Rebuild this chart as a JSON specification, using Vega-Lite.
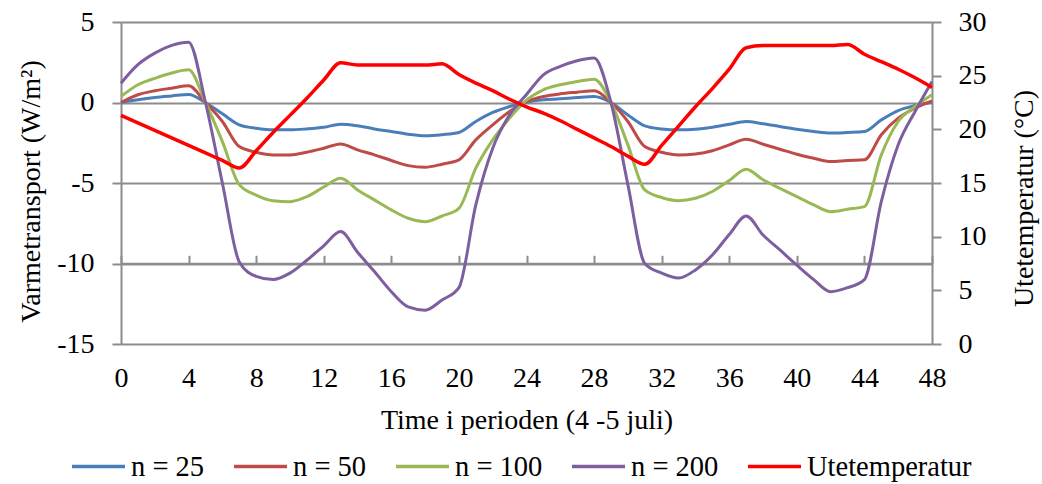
{
  "$schema": "https://vega.github.io/schema/vega-lite/v6.json",
  "width": 811,
  "height": 322,
  "autosize": {"type": "none"},
  "padding": {"left": 121, "top": 22, "right": 110, "bottom": 140},
  "background": "white",
  "config": {
    "font": "Liberation Serif",
    "view": {"stroke": null},
    "axis": {
      "labelFont": "Liberation Serif",
      "labelFontSize": 28,
      "labelColor": "#000000",
      "titleFont": "Liberation Serif",
      "titleFontSize": 28,
      "titleFontWeight": "normal",
      "titleColor": "#000000",
      "domainColor": "#8c8c8c",
      "domainWidth": 2,
      "tickColor": "#8c8c8c",
      "tickWidth": 2,
      "gridColor": "#8c8c8c",
      "gridWidth": 2,
      "gridOpacity": 1
    },
    "legend": {
      "labelFont": "Liberation Serif",
      "labelFontSize": 28.5,
      "labelColor": "#000000"
    }
  },
  "datasets": {
    "varme": [
      {"time": 0, "serie": "n = 25", "verdi": 0},
      {"time": 1, "serie": "n = 25", "verdi": 0.17},
      {"time": 2, "serie": "n = 25", "verdi": 0.31},
      {"time": 3, "serie": "n = 25", "verdi": 0.41},
      {"time": 4, "serie": "n = 25", "verdi": 0.5},
      {"time": 5, "serie": "n = 25", "verdi": 0},
      {"time": 6, "serie": "n = 25", "verdi": -0.7},
      {"time": 7, "serie": "n = 25", "verdi": -1.39},
      {"time": 8, "serie": "n = 25", "verdi": -1.6},
      {"time": 9, "serie": "n = 25", "verdi": -1.7},
      {"time": 10, "serie": "n = 25", "verdi": -1.7},
      {"time": 11, "serie": "n = 25", "verdi": -1.64},
      {"time": 12, "serie": "n = 25", "verdi": -1.54},
      {"time": 13, "serie": "n = 25", "verdi": -1.35},
      {"time": 14, "serie": "n = 25", "verdi": -1.45},
      {"time": 15, "serie": "n = 25", "verdi": -1.64},
      {"time": 16, "serie": "n = 25", "verdi": -1.8},
      {"time": 17, "serie": "n = 25", "verdi": -1.97},
      {"time": 18, "serie": "n = 25", "verdi": -2.07},
      {"time": 19, "serie": "n = 25", "verdi": -2.0},
      {"time": 20, "serie": "n = 25", "verdi": -1.86},
      {"time": 21, "serie": "n = 25", "verdi": -1.18},
      {"time": 22, "serie": "n = 25", "verdi": -0.62},
      {"time": 23, "serie": "n = 25", "verdi": -0.25},
      {"time": 24, "serie": "n = 25", "verdi": 0.03},
      {"time": 25, "serie": "n = 25", "verdi": 0.17},
      {"time": 26, "serie": "n = 25", "verdi": 0.23},
      {"time": 27, "serie": "n = 25", "verdi": 0.31},
      {"time": 28, "serie": "n = 25", "verdi": 0.37},
      {"time": 29, "serie": "n = 25", "verdi": 0},
      {"time": 30, "serie": "n = 25", "verdi": -0.77},
      {"time": 31, "serie": "n = 25", "verdi": -1.45},
      {"time": 32, "serie": "n = 25", "verdi": -1.64},
      {"time": 33, "serie": "n = 25", "verdi": -1.7},
      {"time": 34, "serie": "n = 25", "verdi": -1.66},
      {"time": 35, "serie": "n = 25", "verdi": -1.54},
      {"time": 36, "serie": "n = 25", "verdi": -1.35},
      {"time": 37, "serie": "n = 25", "verdi": -1.18},
      {"time": 38, "serie": "n = 25", "verdi": -1.32},
      {"time": 39, "serie": "n = 25", "verdi": -1.49},
      {"time": 40, "serie": "n = 25", "verdi": -1.66},
      {"time": 41, "serie": "n = 25", "verdi": -1.8},
      {"time": 42, "serie": "n = 25", "verdi": -1.9},
      {"time": 43, "serie": "n = 25", "verdi": -1.86},
      {"time": 44, "serie": "n = 25", "verdi": -1.8},
      {"time": 45, "serie": "n = 25", "verdi": -1.08},
      {"time": 46, "serie": "n = 25", "verdi": -0.5},
      {"time": 47, "serie": "n = 25", "verdi": -0.19},
      {"time": 48, "serie": "n = 25", "verdi": 0.02},

      {"time": 0, "serie": "n = 50", "verdi": 0},
      {"time": 1, "serie": "n = 50", "verdi": 0.48},
      {"time": 2, "serie": "n = 50", "verdi": 0.73},
      {"time": 3, "serie": "n = 50", "verdi": 0.89},
      {"time": 4, "serie": "n = 50", "verdi": 1.04},
      {"time": 5, "serie": "n = 50", "verdi": 0},
      {"time": 6, "serie": "n = 50", "verdi": -1.18},
      {"time": 7, "serie": "n = 50", "verdi": -2.74},
      {"time": 8, "serie": "n = 50", "verdi": -3.09},
      {"time": 9, "serie": "n = 50", "verdi": -3.26},
      {"time": 10, "serie": "n = 50", "verdi": -3.26},
      {"time": 11, "serie": "n = 50", "verdi": -3.09},
      {"time": 12, "serie": "n = 50", "verdi": -2.84},
      {"time": 13, "serie": "n = 50", "verdi": -2.57},
      {"time": 14, "serie": "n = 50", "verdi": -2.94},
      {"time": 15, "serie": "n = 50", "verdi": -3.25},
      {"time": 16, "serie": "n = 50", "verdi": -3.6},
      {"time": 17, "serie": "n = 50", "verdi": -3.92},
      {"time": 18, "serie": "n = 50", "verdi": -4.02},
      {"time": 19, "serie": "n = 50", "verdi": -3.83},
      {"time": 20, "serie": "n = 50", "verdi": -3.56},
      {"time": 21, "serie": "n = 50", "verdi": -2.32},
      {"time": 22, "serie": "n = 50", "verdi": -1.39},
      {"time": 23, "serie": "n = 50", "verdi": -0.56},
      {"time": 24, "serie": "n = 50", "verdi": 0.05},
      {"time": 25, "serie": "n = 50", "verdi": 0.37},
      {"time": 26, "serie": "n = 50", "verdi": 0.54},
      {"time": 27, "serie": "n = 50", "verdi": 0.64},
      {"time": 28, "serie": "n = 50", "verdi": 0.73},
      {"time": 29, "serie": "n = 50", "verdi": 0},
      {"time": 30, "serie": "n = 50", "verdi": -1.18},
      {"time": 31, "serie": "n = 50", "verdi": -2.74},
      {"time": 32, "serie": "n = 50", "verdi": -3.09},
      {"time": 33, "serie": "n = 50", "verdi": -3.26},
      {"time": 34, "serie": "n = 50", "verdi": -3.2},
      {"time": 35, "serie": "n = 50", "verdi": -3.0},
      {"time": 36, "serie": "n = 50", "verdi": -2.63},
      {"time": 37, "serie": "n = 50", "verdi": -2.28},
      {"time": 38, "serie": "n = 50", "verdi": -2.59},
      {"time": 39, "serie": "n = 50", "verdi": -2.9},
      {"time": 40, "serie": "n = 50", "verdi": -3.21},
      {"time": 41, "serie": "n = 50", "verdi": -3.46},
      {"time": 42, "serie": "n = 50", "verdi": -3.67},
      {"time": 43, "serie": "n = 50", "verdi": -3.6},
      {"time": 44, "serie": "n = 50", "verdi": -3.56},
      {"time": 45, "serie": "n = 50", "verdi": -2.0},
      {"time": 46, "serie": "n = 50", "verdi": -0.97},
      {"time": 47, "serie": "n = 50", "verdi": -0.35},
      {"time": 48, "serie": "n = 50", "verdi": 0.1},

      {"time": 0, "serie": "n = 100", "verdi": 0.37},
      {"time": 1, "serie": "n = 100", "verdi": 1.1},
      {"time": 2, "serie": "n = 100", "verdi": 1.5},
      {"time": 3, "serie": "n = 100", "verdi": 1.83},
      {"time": 4, "serie": "n = 100", "verdi": 2.03},
      {"time": 5, "serie": "n = 100", "verdi": 0},
      {"time": 6, "serie": "n = 100", "verdi": -2.43},
      {"time": 7, "serie": "n = 100", "verdi": -5.1},
      {"time": 8, "serie": "n = 100", "verdi": -5.75},
      {"time": 9, "serie": "n = 100", "verdi": -6.1},
      {"time": 10, "serie": "n = 100", "verdi": -6.16},
      {"time": 11, "serie": "n = 100", "verdi": -5.85},
      {"time": 12, "serie": "n = 100", "verdi": -5.25},
      {"time": 13, "serie": "n = 100", "verdi": -4.7},
      {"time": 14, "serie": "n = 100", "verdi": -5.43},
      {"time": 15, "serie": "n = 100", "verdi": -6.05},
      {"time": 16, "serie": "n = 100", "verdi": -6.67},
      {"time": 17, "serie": "n = 100", "verdi": -7.19},
      {"time": 18, "serie": "n = 100", "verdi": -7.4},
      {"time": 19, "serie": "n = 100", "verdi": -7.05},
      {"time": 20, "serie": "n = 100", "verdi": -6.57},
      {"time": 21, "serie": "n = 100", "verdi": -4.08},
      {"time": 22, "serie": "n = 100", "verdi": -2.32},
      {"time": 23, "serie": "n = 100", "verdi": -0.97},
      {"time": 24, "serie": "n = 100", "verdi": 0.15},
      {"time": 25, "serie": "n = 100", "verdi": 0.79},
      {"time": 26, "serie": "n = 100", "verdi": 1.1},
      {"time": 27, "serie": "n = 100", "verdi": 1.31},
      {"time": 28, "serie": "n = 100", "verdi": 1.45},
      {"time": 29, "serie": "n = 100", "verdi": 0},
      {"time": 30, "serie": "n = 100", "verdi": -2.63},
      {"time": 31, "serie": "n = 100", "verdi": -5.43},
      {"time": 32, "serie": "n = 100", "verdi": -5.9},
      {"time": 33, "serie": "n = 100", "verdi": -6.1},
      {"time": 34, "serie": "n = 100", "verdi": -5.95},
      {"time": 35, "serie": "n = 100", "verdi": -5.53},
      {"time": 36, "serie": "n = 100", "verdi": -4.85},
      {"time": 37, "serie": "n = 100", "verdi": -4.15},
      {"time": 38, "serie": "n = 100", "verdi": -4.8},
      {"time": 39, "serie": "n = 100", "verdi": -5.33},
      {"time": 40, "serie": "n = 100", "verdi": -5.85},
      {"time": 41, "serie": "n = 100", "verdi": -6.36},
      {"time": 42, "serie": "n = 100", "verdi": -6.78},
      {"time": 43, "serie": "n = 100", "verdi": -6.63},
      {"time": 44, "serie": "n = 100", "verdi": -6.47},
      {"time": 45, "serie": "n = 100", "verdi": -3.25},
      {"time": 46, "serie": "n = 100", "verdi": -1.18},
      {"time": 47, "serie": "n = 100", "verdi": -0.25},
      {"time": 48, "serie": "n = 100", "verdi": 0.48},

      {"time": 0, "serie": "n = 200", "verdi": 1.2},
      {"time": 1, "serie": "n = 200", "verdi": 2.35},
      {"time": 2, "serie": "n = 200", "verdi": 3.07},
      {"time": 3, "serie": "n = 200", "verdi": 3.55},
      {"time": 4, "serie": "n = 200", "verdi": 3.75},
      {"time": 5, "serie": "n = 200", "verdi": 0},
      {"time": 6, "serie": "n = 200", "verdi": -5.0},
      {"time": 7, "serie": "n = 200", "verdi": -9.9},
      {"time": 8, "serie": "n = 200", "verdi": -10.8},
      {"time": 9, "serie": "n = 200", "verdi": -11.0},
      {"time": 10, "serie": "n = 200", "verdi": -10.6},
      {"time": 11, "serie": "n = 200", "verdi": -9.8},
      {"time": 12, "serie": "n = 200", "verdi": -8.9},
      {"time": 13, "serie": "n = 200", "verdi": -8.02},
      {"time": 14, "serie": "n = 200", "verdi": -9.3},
      {"time": 15, "serie": "n = 200", "verdi": -10.5},
      {"time": 16, "serie": "n = 200", "verdi": -11.75},
      {"time": 17, "serie": "n = 200", "verdi": -12.7},
      {"time": 18, "serie": "n = 200", "verdi": -12.9},
      {"time": 19, "serie": "n = 200", "verdi": -12.27},
      {"time": 20, "serie": "n = 200", "verdi": -11.5},
      {"time": 21, "serie": "n = 200", "verdi": -6.36},
      {"time": 22, "serie": "n = 200", "verdi": -2.84},
      {"time": 23, "serie": "n = 200", "verdi": -0.77},
      {"time": 24, "serie": "n = 200", "verdi": 0.5},
      {"time": 25, "serie": "n = 200", "verdi": 1.72},
      {"time": 26, "serie": "n = 200", "verdi": 2.24},
      {"time": 27, "serie": "n = 200", "verdi": 2.59},
      {"time": 28, "serie": "n = 200", "verdi": 2.76},
      {"time": 29, "serie": "n = 200", "verdi": 0},
      {"time": 30, "serie": "n = 200", "verdi": -5.1},
      {"time": 31, "serie": "n = 200", "verdi": -10.0},
      {"time": 32, "serie": "n = 200", "verdi": -10.6},
      {"time": 33, "serie": "n = 200", "verdi": -10.9},
      {"time": 34, "serie": "n = 200", "verdi": -10.4},
      {"time": 35, "serie": "n = 200", "verdi": -9.47},
      {"time": 36, "serie": "n = 200", "verdi": -8.2},
      {"time": 37, "serie": "n = 200", "verdi": -7.05},
      {"time": 38, "serie": "n = 200", "verdi": -8.23},
      {"time": 39, "serie": "n = 200", "verdi": -9.16},
      {"time": 40, "serie": "n = 200", "verdi": -10.1},
      {"time": 41, "serie": "n = 200", "verdi": -11.0},
      {"time": 42, "serie": "n = 200", "verdi": -11.75},
      {"time": 43, "serie": "n = 200", "verdi": -11.5},
      {"time": 44, "serie": "n = 200", "verdi": -11.0},
      {"time": 45, "serie": "n = 200", "verdi": -6.15},
      {"time": 46, "serie": "n = 200", "verdi": -2.63},
      {"time": 47, "serie": "n = 200", "verdi": -0.56},
      {"time": 48, "serie": "n = 200", "verdi": 1.3}
    ],
    "temp": [
      {"time": 0, "serie": "Utetemperatur", "grader": 21.3},
      {"time": 1, "serie": "Utetemperatur", "grader": 20.6},
      {"time": 2, "serie": "Utetemperatur", "grader": 19.9},
      {"time": 3, "serie": "Utetemperatur", "grader": 19.2},
      {"time": 4, "serie": "Utetemperatur", "grader": 18.5},
      {"time": 5, "serie": "Utetemperatur", "grader": 17.8},
      {"time": 6, "serie": "Utetemperatur", "grader": 17.1},
      {"time": 7, "serie": "Utetemperatur", "grader": 16.4},
      {"time": 8, "serie": "Utetemperatur", "grader": 18.0},
      {"time": 9, "serie": "Utetemperatur", "grader": 19.7},
      {"time": 10, "serie": "Utetemperatur", "grader": 21.3},
      {"time": 11, "serie": "Utetemperatur", "grader": 22.9},
      {"time": 12, "serie": "Utetemperatur", "grader": 24.6},
      {"time": 13, "serie": "Utetemperatur", "grader": 26.2},
      {"time": 14, "serie": "Utetemperatur", "grader": 26.0},
      {"time": 15, "serie": "Utetemperatur", "grader": 26.0},
      {"time": 16, "serie": "Utetemperatur", "grader": 26.0},
      {"time": 17, "serie": "Utetemperatur", "grader": 26.0},
      {"time": 18, "serie": "Utetemperatur", "grader": 26.0},
      {"time": 19, "serie": "Utetemperatur", "grader": 26.1},
      {"time": 20, "serie": "Utetemperatur", "grader": 25.1},
      {"time": 21, "serie": "Utetemperatur", "grader": 24.3},
      {"time": 22, "serie": "Utetemperatur", "grader": 23.6},
      {"time": 23, "serie": "Utetemperatur", "grader": 22.8},
      {"time": 24, "serie": "Utetemperatur", "grader": 22.1},
      {"time": 25, "serie": "Utetemperatur", "grader": 21.5},
      {"time": 26, "serie": "Utetemperatur", "grader": 20.8},
      {"time": 27, "serie": "Utetemperatur", "grader": 20.0},
      {"time": 28, "serie": "Utetemperatur", "grader": 19.2},
      {"time": 29, "serie": "Utetemperatur", "grader": 18.4},
      {"time": 30, "serie": "Utetemperatur", "grader": 17.5},
      {"time": 31, "serie": "Utetemperatur", "grader": 16.75},
      {"time": 32, "serie": "Utetemperatur", "grader": 18.5},
      {"time": 33, "serie": "Utetemperatur", "grader": 20.3},
      {"time": 34, "serie": "Utetemperatur", "grader": 22.1},
      {"time": 35, "serie": "Utetemperatur", "grader": 23.8},
      {"time": 36, "serie": "Utetemperatur", "grader": 25.6},
      {"time": 37, "serie": "Utetemperatur", "grader": 27.6},
      {"time": 38, "serie": "Utetemperatur", "grader": 27.8},
      {"time": 39, "serie": "Utetemperatur", "grader": 27.8},
      {"time": 40, "serie": "Utetemperatur", "grader": 27.8},
      {"time": 41, "serie": "Utetemperatur", "grader": 27.8},
      {"time": 42, "serie": "Utetemperatur", "grader": 27.8},
      {"time": 43, "serie": "Utetemperatur", "grader": 27.9},
      {"time": 44, "serie": "Utetemperatur", "grader": 27.0},
      {"time": 45, "serie": "Utetemperatur", "grader": 26.3},
      {"time": 46, "serie": "Utetemperatur", "grader": 25.6},
      {"time": 47, "serie": "Utetemperatur", "grader": 24.8},
      {"time": 48, "serie": "Utetemperatur", "grader": 23.9}
    ]
  },
  "layer": [
    {
      "data": {"name": "varme"},
      "mark": {"type": "line", "interpolate": "monotone", "strokeWidth": 3},
      "encoding": {
        "x": {
          "field": "time",
          "type": "quantitative",
          "scale": {"domain": [0, 48], "nice": false},
          "axis": {
            "values": [0, 4, 8, 12, 16, 20, 24, 28, 32, 36, 40, 44, 48],
            "title": "Time i perioden (4 -5 juli)",
            "ticks": false,
            "domain": false,
            "grid": false,
            "labelPadding": 20,
            "titlePadding": 14,
            "labelFlush": false
          }
        },
        "y": {
          "field": "verdi",
          "type": "quantitative",
          "scale": {"domain": [-15, 5], "nice": false, "zero": false},
          "axis": {
            "orient": "left",
            "values": [-15, -10, -5, 0, 5],
            "labelExpr": "'' + datum.value",
            "title": "Varmetransport (W/m²)",
            "grid": true,
            "tickSize": 9,
            "labelPadding": 18,
            "titlePadding": 11,
            "titleY": 169
          }
        },
        "color": {
          "field": "serie",
          "type": "nominal",
          "scale": {
            "domain": ["n = 25", "n = 50", "n = 100", "n = 200", "Utetemperatur"],
            "range": ["#4A7EBB", "#BE4B48", "#98B954", "#7D5FA0", "#FF0000"]
          },
          "legend": {
            "title": null,
            "orient": "none",
            "direction": "horizontal",
            "legendX": -51,
            "legendY": 416,
            "symbolType": "stroke",
            "symbolSize": 2809,
            "symbolStrokeWidth": 3.5,
            "labelOffset": 4,
            "columnPadding": 22,
            "padding": 0,
            "labelLimit": 300
          }
        }
      }
    },
    {
      "data": {"name": "temp"},
      "mark": {"type": "line", "interpolate": "monotone", "strokeWidth": 3.5},
      "encoding": {
        "x": {
          "field": "time",
          "type": "quantitative",
          "axis": {
            "values": [0, 4, 8, 12, 16, 20, 24, 28, 32, 36, 40, 44, 48],
            "title": null,
            "labels": false,
            "grid": false,
            "domain": true,
            "ticks": true,
            "tickSize": 8,
            "offset": -241.3
          }
        },
        "y": {
          "field": "grader",
          "type": "quantitative",
          "scale": {"domain": [0, 30], "nice": false},
          "axis": {
            "orient": "right",
            "values": [0, 5, 10, 15, 20, 25, 30],
            "title": "Utetemperatur  (°C)",
            "grid": false,
            "tickSize": 9,
            "labelPadding": 17,
            "titleAngle": 270,
            "titleBaseline": "top",
            "titlePadding": 24,
            "titleY": 176
          }
        },
        "color": {"field": "serie", "type": "nominal"}
      }
    }
  ],
  "resolve": {
    "scale": {"y": "independent"},
    "axis": {"x": "independent", "y": "independent"}
  }
}
